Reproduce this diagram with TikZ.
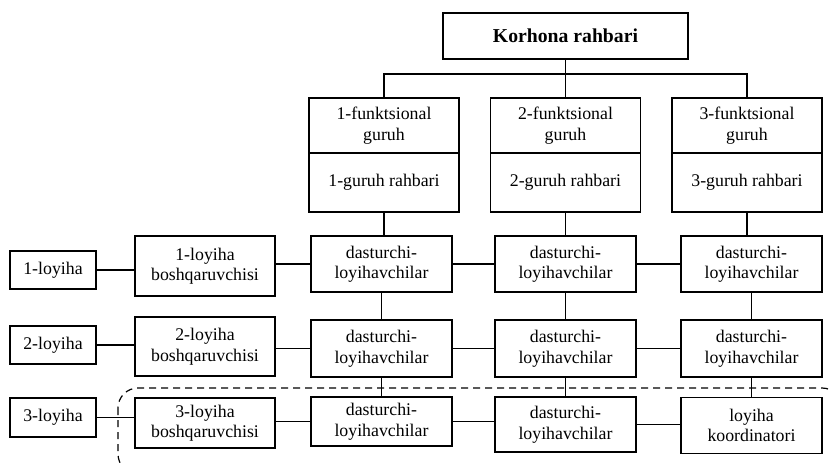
\documentclass[tikz,border=0pt]{standalone}
\usepackage{fontspec}
\setmainfont{Liberation Serif}
\begin{document}
\begin{tikzpicture}[x=1pt,y=-1pt,
  box/.style={draw, line width=1.3pt, inner sep=0pt, align=center,
    font=\fontsize{17.8}{20.5}\selectfont},
  conn/.style={line width=1.3pt},
  dw/.style={box, minimum width=141pt}]
\useasboundingbox (0,0) rectangle (830,465);
% top
\node[box, minimum width=245pt, minimum height=46pt, font=\fontsize{19.7}{22}\selectfont\bfseries] (top) at (565.5,36) {Korhona rahbari};
% functional groups
\foreach \i/\x in {1/384,2/565.5,3/747}{
  \node[box, minimum width=150pt, minimum height=55pt] (f\i a) at (\x,125.5) {\i-funktsional\\guruh};
  \node[box, minimum width=150pt, minimum height=59pt] (f\i b) at (\x,182.5) {\i-guruh rahbari};
}
% dasturchi rows
\node[dw, minimum height=56pt] (d11) at (381.5,264) {dasturchi-\\loyihavchilar};
\node[dw, minimum height=56pt] (d12) at (565.5,264) {dasturchi-\\loyihavchilar};
\node[dw, minimum height=56pt] (d13) at (751.5,264) {dasturchi-\\loyihavchilar};
\node[dw, minimum height=57pt] (d21) at (381.5,348.5) {dasturchi-\\loyihavchilar};
\node[dw, minimum height=57pt] (d22) at (565.5,348.5) {dasturchi-\\loyihavchilar};
\node[dw, minimum height=57pt] (d23) at (751.5,348.5) {dasturchi-\\loyihavchilar};
\node[dw, minimum height=49pt] (d31) at (381.5,421.5) {dasturchi-\\loyihavchilar};
\node[dw, minimum height=55pt] (d32) at (565.5,424.5) {dasturchi-\\loyihavchilar};
\node[dw, minimum height=56pt] (d33) at (751.5,425.5) {loyiha\\koordinatori};
% project managers
\node[box, minimum width=140pt, minimum height=60pt] (b1) at (205,266) {1-loyiha\\boshqaruvchisi};
\node[box, minimum width=140pt, minimum height=59pt] (b2) at (205,346.5) {2-loyiha\\boshqaruvchisi};
\node[box, minimum width=140pt, minimum height=50pt] (b3) at (205,423) {3-loyiha\\boshqaruvchisi};
% projects
\node[box, minimum width=86pt, minimum height=38pt] (l1) at (53,270) {1-loyiha};
\node[box, minimum width=86pt, minimum height=38pt] (l2) at (53,345) {2-loyiha};
\node[box, minimum width=86pt, minimum height=39pt] (l3) at (53,417.5) {3-loyiha};
% tree from top
\coordinate (hb) at (565.5,74);
\draw[conn] (top.south) -- (hb);
\draw[conn] (f1a.north) |- (hb) -| (f3a.north);
\draw[conn] (hb) -- (f2a.north);
% verticals
\foreach \i in {1,2,3}{
  \draw[conn] (f\i b.south) -- (f\i b.south |- d1\i.north);
  \draw[conn] (d1\i.south) -- (d1\i.south |- d2\i.north);
  \draw[conn] (d2\i.south) -- (d2\i.south |- d3\i.north);
}
% horizontals
\foreach \r in {1,2,3}{
  \draw[conn] (l\r.east) -- (l\r.east -| b\r.west);
  \draw[conn] (d\r1.west) -- (d\r1.west -| b\r.east);
  \draw[conn] (d\r1.east) -- (d\r1.east -| d\r2.west);
  \draw[conn] (d\r2.east) -- (d\r2.east -| d\r3.west);
}
% dashed group
\begin{scope}
\clip (0,0) rectangle (830,465);
\draw[line width=1.2pt, dash pattern=on 7pt off 5pt, rounded corners=20pt] (118,388) rectangle (842,474);
\end{scope}
\end{tikzpicture}
\end{document}
